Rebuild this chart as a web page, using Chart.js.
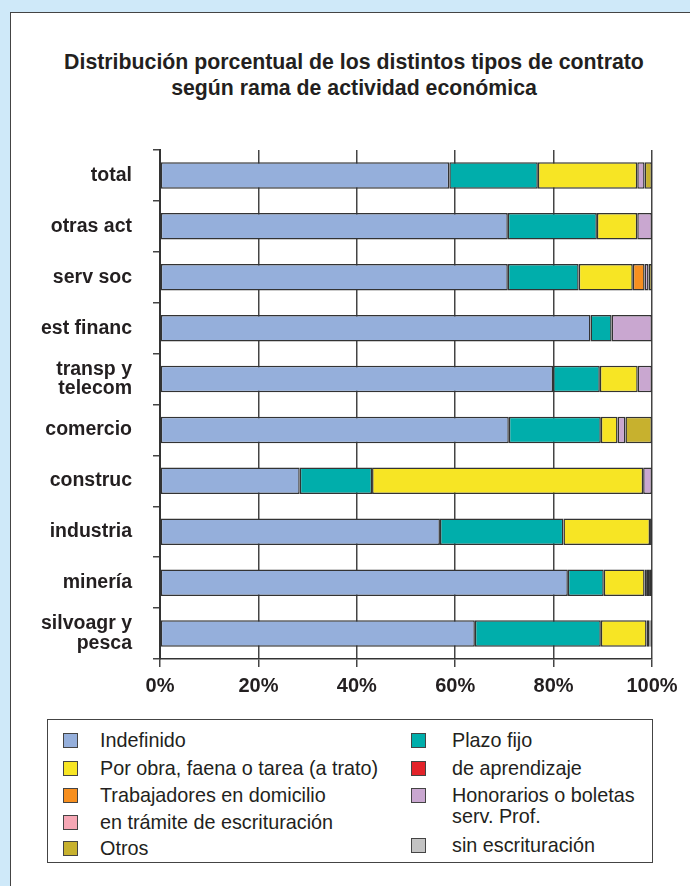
<!DOCTYPE html>
<html>
<head>
<meta charset="utf-8">
<script src="https://cdn.jsdelivr.net/npm/chart.js@4/dist/chart.umd.min.js"></script>
<style>
  body { margin:0; width:690px; height:886px; background:#cfe9f9; position:relative; overflow:hidden; font-family:"Liberation Sans", Arial, sans-serif; }
  #panel { position:absolute; left:10px; top:12px; width:700px; height:900px; background:#fff; border:1.5px solid #444; }
  #c { position:absolute; left:0; top:0; }
  #title { position:absolute; left:54px; width:600px; top:49px; text-align:center; font-weight:bold; font-size:21.3px; line-height:26px; color:#231f20; }
  #legend { position:absolute; left:47px; top:719px; width:604px; height:142px; border:1.5px solid #444; }
  .item { position:absolute; font-size:19.8px; color:#231f20; line-height:21px; }
  .sw { position:absolute; width:13px; height:13px; border:1.3px solid #444; }
</style>
</head>
<body>
<div id="panel"></div>
<div id="title">Distribución porcentual de los distintos tipos de contrato<br>según rama de actividad económica</div>
<canvas id="c" width="690" height="710"></canvas>
<div id="legend"></div>
<script>
var categories = ['total', 'otras act', 'serv soc', 'est financ', ['transp y', 'telecom'], 'comercio', 'construc', 'industria', 'minería', ['silvoagr y', 'pesca']];

// porcentajes por rama (de arriba hacia abajo)
var indefinido  = [58.8, 70.7, 70.7, 87.5, 79.9, 70.9, 28.4, 56.9, 82.9, 64.0];
var plazoFijo   = [18.0, 18.1, 14.4, 4.3, 9.5, 18.7, 14.7, 25.1, 7.3, 25.6];
var porObra     = [20.2, 8.2, 11.0, 0, 7.7, 3.4, 55.1, 17.6, 8.3, 9.3];
var aprendizaje = [0, 0, 0, 0, 0, 0, 0, 0.2, 0.3, 0];
var domicilio   = [0, 0, 2.4, 0, 0, 0, 0, 0, 0, 0.6];
var honorarios  = [1.5, 3.0, 0.8, 8.2, 2.9, 1.6, 1.8, 0, 0.6, 0.2];
var tramite     = [0, 0, 0, 0, 0, 0, 0, 0, 0, 0];
var sinEscrit   = [0, 0, 0, 0, 0, 0, 0, 0, 0, 0];
var otros       = [1.5, 0, 0.7, 0, 0, 5.4, 0, 0.2, 0.6, 0.3];

var xTicks = [0, 20, 40, 60, 80, 100];

var series = [
  {name: 'Indefinido', data: indefinido, color: '#95afdb'},
  {name: 'Plazo fijo', data: plazoFijo, color: '#00aeab'},
  {name: 'Por obra, faena o tarea (a trato)', data: porObra, color: '#f7e524'},
  {name: 'de aprendizaje', data: aprendizaje, color: '#e3232a'},
  {name: 'Trabajadores en domicilio', data: domicilio, color: '#f78f1f'},
  {name: 'Honorarios o boletas<br>serv. Prof.', data: honorarios, color: '#c9a7d0'},
  {name: 'en trámite de escrituración', data: tramite, color: '#f6a7b5'},
  {name: 'sin escrituración', data: sinEscrit, color: '#c3c3c3'},
  {name: 'Otros', data: otros, color: '#c7b12e'}
];

var FONT = '"Liberation Sans", Arial, sans-serif';

new Chart(document.getElementById('c'), {
  type: 'bar',
  data: {
    labels: categories,
    datasets: series.map(function(s) {
      return {
        label: s.name,
        data: s.data.map(function(v){ return v || null; }),
        backgroundColor: s.color,
        borderColor: '#333',
        borderWidth: 1.5,
        borderSkipped: false,
        barPercentage: 0.52,
        categoryPercentage: 1
      };
    })
  },
  options: {
    indexAxis: 'y',
    responsive: false,
    animation: false,
    layout: { padding: { left: 0, right: 38, top: 150, bottom: 0 } },
    plugins: {
      legend: { display: false },
      tooltip: { enabled: false },
      title: { display: false }
    },
    scales: {
      x: {
        stacked: true,
        min: 0, max: 100,
        afterBuildTicks: function(scale) { scale.ticks = xTicks.map(function(v){ return {value: v}; }); },
        afterFit: function(scale) { scale.height = 710 - 659; },
        grid: { color: '#444', lineWidth: 1.5, tickLength: 8, drawOnChartArea: true },
        border: { display: true, color: '#333', width: 1.5 },
        ticks: {
          color: '#231f20',
          padding: 7,
          font: { family: FONT, size: 20, weight: 'bold' },
          callback: function(v) { return v + '%'; }
        }
      },
      y: {
        stacked: true,
        afterFit: function(scale) { scale.width = 160; },
        grid: { drawOnChartArea: false, color: '#444', lineWidth: 1.5, tickLength: 7 },
        border: { display: true, color: '#333', width: 2 },
        ticks: {
          color: '#231f20',
          padding: 21,
          font: { family: FONT, size: 19.5, weight: 'bold', lineHeight: 1.0 }
        }
      }
    }
  }
});

// leyenda en dos columnas, como en el original
var legendLeft = ['Indefinido', 'Por obra, faena o tarea (a trato)', 'Trabajadores en domicilio', 'en trámite de escrituración', 'Otros'];
var legendRight = ['Plazo fijo', 'de aprendizaje', 'Honorarios o boletas<br>serv. Prof.', 'sin escrituración'];
var leftRowsY = [10, 38, 65, 92, 118];
var rightRowsY = [10, 38, 65, 115];
var box = document.getElementById('legend');
function addItem(name, x, xt, y) {
  var s = series.filter(function(d){ return d.name === name; })[0];
  var sw = document.createElement('div');
  sw.className = 'sw';
  sw.style.left = x + 'px';
  sw.style.top = (y + 3) + 'px';
  sw.style.background = s.color;
  box.appendChild(sw);
  var t = document.createElement('div');
  t.className = 'item';
  t.style.left = xt + 'px';
  t.style.top = y + 'px';
  t.innerHTML = name;
  box.appendChild(t);
}
legendLeft.forEach(function(n, i){ addItem(n, 15, 52, leftRowsY[i]); });
legendRight.forEach(function(n, i){ addItem(n, 363, 404, rightRowsY[i]); });
</script>
</body>
</html>
